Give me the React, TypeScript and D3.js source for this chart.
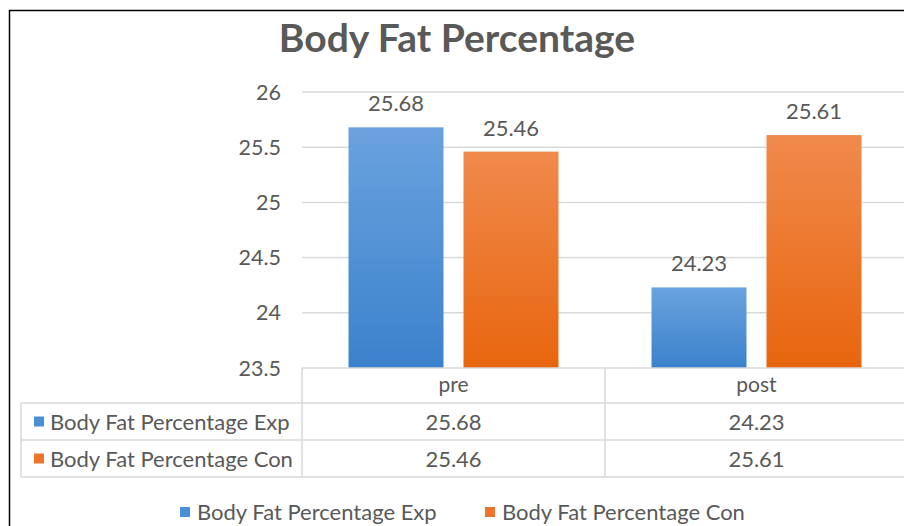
import React from "react";
import * as d3 from "d3";

const categories = ["pre", "post"];
const seriesNames = ["Body Fat Percentage Exp", "Body Fat Percentage Con"];
const expValues = [25.68, 24.23];
const conValues = [25.46, 25.61];
const yTicks = [23.5, 24, 24.5, 25, 25.5, 26];

const W = 904;
const H = 526;
const FONT = "Lato, 'Open Sans', sans-serif";
const TEXT = "#595959";
const GRID = "#d9d9d9";

export default function App() {
  const plotLeft = 302;
  const plotRight = 908;
  const plotTop = 92;
  const plotBottom = 368;
  const y = d3.scaleLinear().domain([23.5, 26]).range([plotBottom, plotTop]);
  const x0 = d3.scaleBand<string>().domain(categories).range([plotLeft, plotRight]).padding(0);
  const x1 = d3
    .scaleBand<string>()
    .domain(seriesNames)
    .range([0, x0.bandwidth()])
    .paddingInner(0.174)
    .paddingOuter(0.4045);
  const seriesValues = [expValues, conValues];
  const gradIds = ["gradExp", "gradCon"];
  const swatch = ["#4a8fd6", "#ee7428"];

  const rowTops = [368, 403, 440, 477];
  const tableLeft = 21;

  return (
    <svg
      width={W}
      height={H}
      style={{ position: "absolute", left: 0, top: 0, background: "#fff" }}
      fontFamily={FONT}
    >
      <defs>
        <linearGradient id="gradExp" x1="0" y1="0" x2="0" y2="1">
          <stop offset="0%" stopColor="#6aa2de" />
          <stop offset="100%" stopColor="#3b82cc" />
        </linearGradient>
        <linearGradient id="gradCon" x1="0" y1="0" x2="0" y2="1">
          <stop offset="0%" stopColor="#f08a4c" />
          <stop offset="100%" stopColor="#e8650e" />
        </linearGradient>
      </defs>
      <rect x={0} y={0} width={W} height={H} fill="#fff" />
      {/* frame */}
      <line x1={9} y1={10.5} x2={W} y2={10.5} stroke="#000" strokeWidth={1.5} />
      <line x1={9.5} y1={10} x2={9.5} y2={H} stroke="#000" strokeWidth={1.5} />

      {/* title */}
      <text x={457} y={52} textAnchor="middle" fontSize={39} fontWeight="bold" fill={TEXT}>
        Body Fat Percentage
      </text>

      {/* gridlines and y labels */}
      {yTicks.map((t) => (
        <g key={t}>
          {t !== 23.5 && (
            <line x1={plotLeft} x2={W} y1={y(t)} y2={y(t)} stroke={GRID} strokeWidth={1.5} />
          )}
          <text x={281} y={y(t) + 7.5} textAnchor="end" fontSize={21.5} fill={TEXT}>
            {t}
          </text>
        </g>
      ))}

      {/* bars */}
      {categories.map((c, ci) => (
        <g key={c} transform={`translate(${x0(c)},0)`}>
          {seriesNames.map((s, si) => {
            const v = seriesValues[si][ci];
            const bx = x1(s)!;
            return (
              <g key={s}>
                <rect
                  x={bx}
                  y={y(v)}
                  width={x1.bandwidth()}
                  height={plotBottom - y(v)}
                  fill={`url(#${gradIds[si]})`}
                />
                <text
                  x={bx + x1.bandwidth() / 2}
                  y={y(v) - 16}
                  textAnchor="middle"
                  fontSize={22}
                  fill={TEXT}
                >
                  {v.toFixed(2)}
                </text>
              </g>
            );
          })}
        </g>
      ))}

      {/* data table */}
      <line x1={plotLeft} x2={W} y1={rowTops[0]} y2={rowTops[0]} stroke={GRID} strokeWidth={1.5} />
      {rowTops.slice(1).map((ry) => (
        <line key={ry} x1={tableLeft} x2={W} y1={ry} y2={ry} stroke={GRID} strokeWidth={1.5} />
      ))}
      <line x1={tableLeft} x2={tableLeft} y1={rowTops[1]} y2={rowTops[3]} stroke={GRID} strokeWidth={1.5} />
      {categories.map((c) => (
        <line
          key={c}
          x1={x0(c)!}
          x2={x0(c)!}
          y1={rowTops[0]}
          y2={rowTops[3]}
          stroke={GRID}
          strokeWidth={1.5}
        />
      ))}
      {categories.map((c) => (
        <text
          key={c}
          x={x0(c)! + x0.bandwidth() / 2}
          y={(rowTops[0] + rowTops[1]) / 2 + 6}
          textAnchor="middle"
          fontSize={21}
          fill={TEXT}
        >
          {c}
        </text>
      ))}
      {seriesNames.map((s, si) => {
        const cy = (rowTops[si + 1] + rowTops[si + 2]) / 2;
        return (
          <g key={s}>
            <rect x={34} y={cy - 5} width={10} height={10} fill={swatch[si]} />
            <text x={50} y={cy + 8} fontSize={22} fill={TEXT}>
              {s}
            </text>
            {categories.map((c, ci) => (
              <text
                key={c}
                x={x0(c)! + x0.bandwidth() / 2}
                y={cy + 8}
                textAnchor="middle"
                fontSize={22}
                fill={TEXT}
              >
                {seriesValues[si][ci].toFixed(2)}
              </text>
            ))}
          </g>
        );
      })}

      {/* legend */}
      {seriesNames.map((s, si) => {
        const lx = [180, 485][si];
        return (
          <g key={s}>
            <rect x={lx} y={507} width={10} height={10} fill={swatch[si]} />
            <text x={lx + 17} y={520} fontSize={22} fill={TEXT}>
              {s}
            </text>
          </g>
        );
      })}
    </svg>
  );
}
